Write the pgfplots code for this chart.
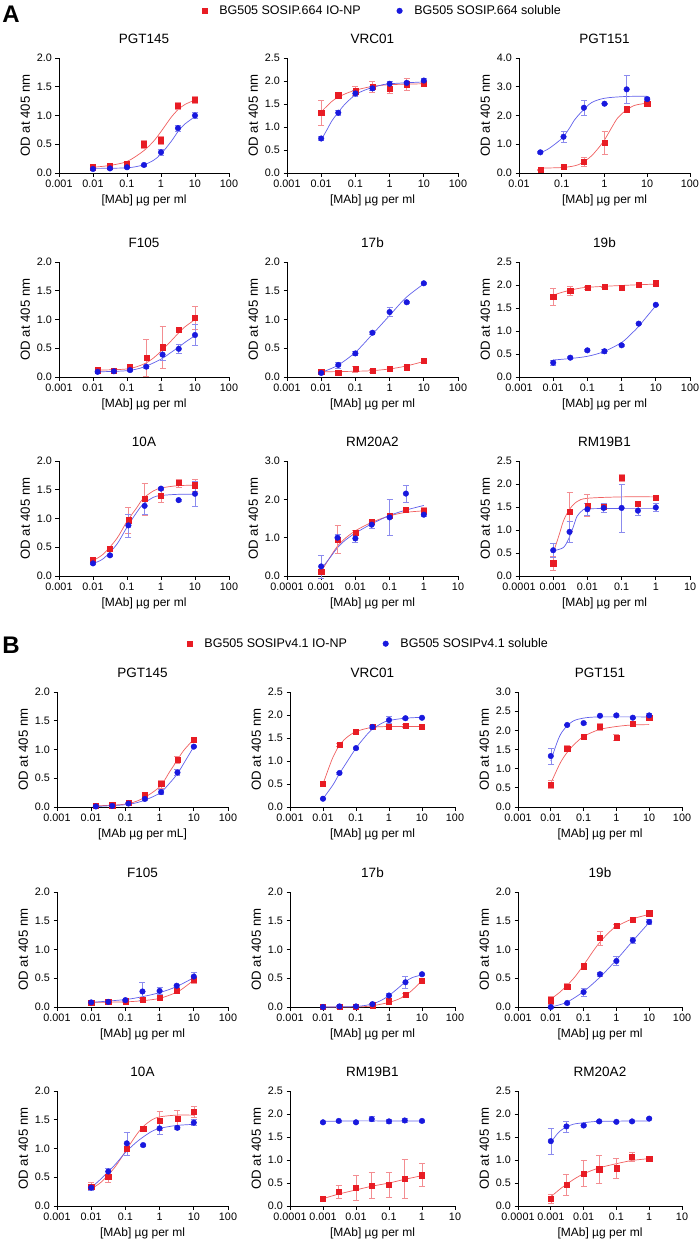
\documentclass[border=0pt]{standalone}
\usepackage{pgfplots}
\pgfplotsset{compat=1.18}
\usepackage{fontspec}
\setmainfont{Liberation Sans}
\definecolor{mred}{RGB}{232,28,36}
\definecolor{mblue}{RGB}{24,24,222}
\definecolor{cred}{RGB}{240,95,95}
\definecolor{cblue}{RGB}{95,95,235}
\pgfkeys{/pgf/number format/assume math mode=true}
\pgfplotsset{
 myax/.style={scale only axis, width=170pt, height=115pt, clip=false,
   axis x line*=bottom, axis y line*=left,
   axis line style={line width=0.8pt, black},
   tick style={black, line width=0.8pt}, tick align=outside, major tick length=3.5pt,
   xminorticks=false, ymin=0,
   ticklabel style={font=\fontsize{10.8}{12}\selectfont},
   yticklabel style={/pgf/number format/fixed, /pgf/number format/fixed zerofill, /pgf/number format/precision=1},
   xlabel={[MAb] µg per ml}, ylabel={OD at 405 nm},
   xlabel style={font=\fontsize{12}{14}\selectfont},
   ylabel style={font=\fontsize{13.2}{15}\selectfont},
   title style={yshift=5pt, font=\fontsize{13.5}{16}\selectfont},
   anchor=south west,
 },
 lg/.style={legend style={draw=none, fill=none, legend columns=2, anchor=center,
   font=\fontsize{12.5}{14}\selectfont,
   /tikz/every odd column/.append style={column sep=10pt},
   /tikz/every even column/.append style={column sep=34pt}}},
 x5/.style={xmin=0.001,xmax=100, xtick={0.001,0.01,0.1,1,10,100}, xticklabels={0.001,0.01,0.1,1,10,100}},
 x4/.style={xmin=0.01,xmax=100, xtick={0.01,0.1,1,10,100}, xticklabels={0.01,0.1,1,10,100}},
 xr/.style={xmin=0.0001,xmax=10, xtick={0.0001,0.001,0.01,0.1,1,10}, xticklabels={0.0001,0.001,0.01,0.1,1,10}},
 y2/.style={ymax=2, ytick={0,0.5,1,1.5,2}},
 y25/.style={ymax=2.5, ytick={0,0.5,1,1.5,2,2.5}},
 y3/.style={ymax=3, ytick={0,1,2,3}},
 y3h/.style={ymax=3, ytick={0,0.5,1,1.5,2,2.5,3}},
 y4/.style={ymax=4, ytick={0,1,2,3,4}},
 rc/.style={cred, line width=0.7pt, smooth, no marks},
 bc/.style={cblue, line width=0.7pt, smooth, no marks},
 rp/.style={only marks, mark=square*, mark size=2.6pt, color=mred,
   error bars/y dir=both, error bars/y explicit,
   error bars/error bar style={line width=0.6pt, color=mred!50},
   error bars/error mark options={rotate=90, mark size=3pt, line width=0.6pt, color=mred!50}},
 bp/.style={only marks, mark=*, mark size=2.8pt, color=mblue,
   error bars/y dir=both, error bars/y explicit,
   error bars/error bar style={line width=0.6pt, color=mblue!50},
   error bars/error mark options={rotate=90, mark size=3pt, line width=0.6pt, color=mblue!50}},
}
\begin{document}
\begin{tikzpicture}
\useasboundingbox (0pt,0pt) rectangle (700pt,-1242pt);
\node[font=\bfseries\fontsize{24}{26}\selectfont] at (11pt,-14pt) {A};
\node[font=\bfseries\fontsize{24}{26}\selectfont] at (11pt,-645pt) {B};

% ================= PANEL A =================
% A1 PGT145
\begin{semilogxaxis}[myax, x5, y2, at={(59pt,-173pt)}, title={PGT145}]
\addplot[rc] coordinates {(0.01,0.10) (0.03,0.13) (0.1,0.20) (0.3,0.38) (0.6,0.55) (1,0.72) (2,0.97) (3.16,1.10) (5,1.19) (10,1.27)};
\addplot[bc] coordinates {(0.01,0.08) (0.1,0.09) (0.3,0.14) (0.6,0.22) (1,0.33) (2,0.55) (3.16,0.72) (5,0.85) (10,0.98)};
\addplot[rp] coordinates {(0.01,0.10) +- (0,0.03) (0.0316,0.12) +- (0,0.03) (0.1,0.16) +- (0,0.03) (0.316,0.50) +- (0,0.07) (1,0.57) +- (0,0.07) (3.16,1.17) +- (0,0.06) (10,1.28) +- (0,0.06)};
\addplot[bp] coordinates {(0.01,0.07) +- (0,0.01) (0.0316,0.08) +- (0,0.01) (0.1,0.10) +- (0,0.01) (0.316,0.14) +- (0,0.02) (1,0.36) +- (0,0.05) (3.16,0.78) +- (0,0.05) (10,1.00) +- (0,0.05)};
\end{semilogxaxis}
% A2 VRC01
\begin{semilogxaxis}[myax, x5, y25, at={(287pt,-173pt)}, width=171pt, title={VRC01},
  lg, legend style={at={(0.558,1.41)}}]
\addlegendimage{only marks, mark=square*, mark size=2.6pt, mred}
\addlegendentry{BG505 SOSIP.664 IO-NP}
\addlegendimage{only marks, mark=*, mark size=2.8pt, mblue}
\addlegendentry{BG505 SOSIP.664 soluble}
\addplot[rc] coordinates {(0.01,1.33) (0.02,1.55) (0.03,1.64) (0.05,1.72) (0.1,1.80) (0.3,1.88) (1,1.92) (10,1.94)};
\addplot[bc] coordinates {(0.01,0.72) (0.015,0.95) (0.02,1.12) (0.03,1.30) (0.05,1.50) (0.1,1.70) (0.2,1.81) (0.5,1.90) (1,1.94) (10,1.98)};
\addplot[rp] coordinates {(0.01,1.31) +- (0,0.28) (0.0316,1.69) +- (0,0.03) (0.1,1.78) +- (0,0.10) (0.316,1.88) +- (0,0.12) (1,1.84) +- (0,0.10) (3.16,1.93) +- (0,0.13) (10,1.94) +- (0,0.04)};
\addplot[bp] coordinates {(0.01,0.75) +- (0,0.04) (0.0316,1.31) +- (0,0.06) (0.1,1.73) +- (0,0.06) (0.316,1.84) +- (0,0.05) (1,1.94) +- (0,0.05) (3.16,1.96) +- (0,0.04) (10,2.01) +- (0,0.04)};
\end{semilogxaxis}
% A3 PGT151
\begin{semilogxaxis}[myax, x4, y4, at={(519pt,-173pt)}, width=171pt, title={PGT151}]
\addplot[bc] coordinates {(0.0316,0.70) (0.05,0.85) (0.1,1.20) (0.15,1.55) (0.2,1.85) (0.3,2.15) (0.5,2.45) (1,2.60) (3,2.66) (10,2.67)};
\addplot[rc] coordinates {(0.0316,0.17) (0.1,0.19) (0.2,0.25) (0.3,0.35) (0.5,0.60) (0.8,0.95) (1,1.15) (1.5,1.60) (2,1.90) (3,2.15) (5,2.35) (10,2.43)};
\addplot[rp] coordinates {(0.0316,0.12) +- (0,0.02) (0.11,0.22) +- (0,0.05) (0.33,0.40) +- (0,0.15) (1,1.05) +- (0,0.40) (3.3,2.22) +- (0,0.05) (10,2.41) +- (0,0.10)};
\addplot[bp] coordinates {(0.0316,0.72) +- (0,0.03) (0.11,1.26) +- (0,0.20) (0.33,2.27) +- (0,0.25) (1,2.41) +- (0,0.02) (3.3,2.91) +- (0,0.50) (10,2.57) +- (0,0.05)};
\end{semilogxaxis}
% A4 F105
\begin{semilogxaxis}[myax, x5, y2, at={(59pt,-377pt)}, title={F105}]
\addplot[rc] coordinates {(0.0137,0.12) (0.1,0.14) (0.3,0.22) (0.6,0.33) (1,0.45) (2,0.63) (3.33,0.77) (5,0.87) (10,1.00)};
\addplot[bc] coordinates {(0.0137,0.09) (0.1,0.11) (0.3,0.17) (1,0.31) (2,0.43) (3.33,0.52) (5,0.60) (10,0.72)};
\addplot[rp] coordinates {(0.0137,0.12) +- (0,0.03) (0.0412,0.11) +- (0,0.02) (0.123,0.17) +- (0,0.05) (0.37,0.34) +- (0,0.32) (1.11,0.52) +- (0,0.37) (3.33,0.82) +- (0,0.02) (10,1.03) +- (0,0.20)};
\addplot[bp] coordinates {(0.0137,0.09) +- (0,0.02) (0.0412,0.10) +- (0,0.02) (0.123,0.12) +- (0,0.02) (0.37,0.18) +- (0,0.03) (1.11,0.39) +- (0,0.10) (3.33,0.49) +- (0,0.08) (10,0.73) +- (0,0.18)};
\end{semilogxaxis}
% A5 17b
\begin{semilogxaxis}[myax, x5, y2, at={(287pt,-377pt)}, width=171pt, title={17b}]
\addplot[bc] coordinates {(0.01,0.08) (0.03,0.20) (0.1,0.43) (0.3,0.73) (1,1.07) (3,1.38) (10,1.62)};
\addplot[rc] coordinates {(0.01,0.09) (0.1,0.10) (0.3,0.11) (1,0.14) (3,0.19) (10,0.27)};
\addplot[rp] coordinates {(0.01,0.09) +- (0,0.02) (0.0316,0.08) +- (0,0.02) (0.1,0.14) +- (0,0.05) (0.316,0.11) +- (0,0.02) (1,0.15) +- (0,0.02) (3.16,0.17) +- (0,0.03) (10,0.28) +- (0,0.03)};
\addplot[bp] coordinates {(0.01,0.07) +- (0,0.03) (0.0316,0.21) +- (0,0.05) (0.1,0.41) +- (0,0.04) (0.316,0.77) +- (0,0.02) (1,1.13) +- (0,0.08) (3.16,1.30) +- (0,0.02) (10,1.63) +- (0,0.02)};
\end{semilogxaxis}
% A6 19b
\begin{semilogxaxis}[myax, x5, y25, at={(519pt,-377pt)}, width=171pt, title={19b}]
\addplot[rc] coordinates {(0.01,1.78) (0.02,1.85) (0.05,1.92) (0.1,1.95) (1,1.99) (10,2.02)};
\addplot[bc] coordinates {(0.01,0.37) (0.03,0.40) (0.1,0.45) (0.3,0.55) (1,0.75) (2,0.95) (3.16,1.10) (5,1.28) (10,1.55)};
\addplot[rp] coordinates {(0.01,1.74) +- (0,0.19) (0.0316,1.88) +- (0,0.10) (0.1,1.94) +- (0,0.03) (0.316,1.96) +- (0,0.02) (1,1.94) +- (0,0.04) (3.16,2.00) +- (0,0.03) (10,2.04) +- (0,0.03)};
\addplot[bp] coordinates {(0.01,0.31) +- (0,0.05) (0.0316,0.42) +- (0,0.02) (0.1,0.58) +- (0,0.02) (0.316,0.56) +- (0,0.05) (1,0.69) +- (0,0.02) (3.16,1.16) +- (0,0.02) (10,1.57) +- (0,0.02)};
\end{semilogxaxis}
% A7 10A
\begin{semilogxaxis}[myax, x5, y2, at={(59pt,-576pt)}, title={10A}]
\addplot[rc] coordinates {(0.01,0.27) (0.02,0.38) (0.05,0.65) (0.1,0.95) (0.2,1.20) (0.3,1.35) (0.6,1.48) (1,1.53) (3,1.57) (10,1.58)};
\addplot[bc] coordinates {(0.01,0.22) (0.02,0.30) (0.05,0.55) (0.1,0.85) (0.2,1.12) (0.3,1.25) (0.6,1.37) (1,1.40) (3,1.42) (10,1.42)};
\addplot[rp] coordinates {(0.01,0.28) +- (0,0.03) (0.0316,0.48) +- (0,0.03) (0.11,0.97) +- (0,0.22) (0.33,1.34) +- (0,0.28) (1,1.39) +- (0,0.10) (3.3,1.62) +- (0,0.07) (10,1.58) +- (0,0.10)};
\addplot[bp] coordinates {(0.01,0.22) +- (0,0.02) (0.0316,0.36) +- (0,0.02) (0.11,0.88) +- (0,0.20) (0.33,1.22) +- (0,0.15) (1,1.52) +- (0,0.02) (3.3,1.32) +- (0,0.02) (10,1.43) +- (0,0.22)};
\end{semilogxaxis}
% A8 RM20A2
\begin{semilogxaxis}[myax, xr, y3, at={(287pt,-576pt)}, width=171pt, title={RM20A2}]
\addplot[rc] coordinates {(0.001,0.12) (0.002,0.55) (0.003,0.78) (0.005,0.98) (0.01,1.18) (0.03,1.40) (0.1,1.57) (0.3,1.66) (1,1.70)};
\addplot[bc] coordinates {(0.001,0.18) (0.002,0.53) (0.003,0.74) (0.005,0.93) (0.01,1.12) (0.03,1.36) (0.1,1.58) (0.3,1.72) (1,1.84)};
\addplot[rp] coordinates {(0.001,0.12) +- (0,0.05) (0.003,0.95) +- (0,0.37) (0.01,1.13) +- (0,0.05) (0.03,1.42) +- (0,0.03) (0.1,1.57) +- (0,0.05) (0.3,1.73) +- (0,0.05) (1,1.70) +- (0,0.10)};
\addplot[bp] coordinates {(0.001,0.25) +- (0,0.30) (0.003,1.00) +- (0,0.10) (0.01,0.98) +- (0,0.10) (0.03,1.34) +- (0,0.10) (0.1,1.53) +- (0,0.48) (0.3,2.15) +- (0,0.22) (1,1.60) +- (0,0.05)};
\end{semilogxaxis}
% A9 RM19B1
\begin{semilogxaxis}[myax, xr, y25, at={(519pt,-576pt)}, width=171pt, title={RM19B1}]
\addplot[rc] coordinates {(0.001,0.50) (0.0015,0.90) (0.002,1.20) (0.003,1.45) (0.005,1.62) (0.01,1.69) (0.1,1.72) (1,1.72)};
\addplot[bc] coordinates {(0.001,0.55) (0.002,0.62) (0.003,0.85) (0.004,1.10) (0.005,1.30) (0.007,1.42) (0.01,1.46) (0.1,1.47) (1,1.47)};
\addplot[rp] coordinates {(0.001,0.28) +- (0,0.15) (0.003,1.40) +- (0,0.42) (0.01,1.53) +- (0,0.24) (0.03,1.50) +- (0,0.05) (0.1,2.13) +- (0,0.08) (0.3,1.58) +- (0,0.03) (1,1.71) +- (0,0.03)};
\addplot[bp] coordinates {(0.001,0.56) +- (0,0.15) (0.003,0.96) +- (0,0.23) (0.01,1.45) +- (0,0.12) (0.03,1.48) +- (0,0.10) (0.1,1.48) +- (0,0.52) (0.3,1.42) +- (0,0.10) (1,1.49) +- (0,0.08)};
\end{semilogxaxis}

% ================= PANEL B =================
% B1 PGT145
\begin{semilogxaxis}[myax, x5, y2, at={(57pt,-807pt)}, width=171pt, title={PGT145}, xlabel={[MAb µg per mL]}]
\addplot[rc] coordinates {(0.0137,0.02) (0.1,0.05) (0.3,0.14) (1,0.35) (2,0.62) (3.33,0.82) (5,0.98) (10,1.18)};
\addplot[bc] coordinates {(0.0137,0.01) (0.1,0.04) (0.3,0.10) (1,0.24) (2,0.42) (3.33,0.58) (5,0.75) (10,1.05)};
\addplot[rp] coordinates {(0.0137,0.02) +- (0,0.02) (0.0412,0.03) +- (0,0.02) (0.123,0.07) +- (0,0.02) (0.37,0.21) +- (0,0.05) (1.11,0.40) +- (0,0.07) (3.33,0.82) +- (0,0.06) (10,1.17) +- (0,0.03)};
\addplot[bp] coordinates {(0.0137,0.01) +- (0,0.01) (0.0412,0.02) +- (0,0.01) (0.123,0.06) +- (0,0.01) (0.37,0.14) +- (0,0.02) (1.11,0.26) +- (0,0.04) (3.33,0.60) +- (0,0.05) (10,1.05) +- (0,0.02)};
\end{semilogxaxis}
% B2 VRC01
\begin{semilogxaxis}[myax, x5, y25, at={(290pt,-807pt)}, width=165pt, title={VRC01},
  lg, legend style={at={(0.476,1.42)}}]
\addlegendimage{only marks, mark=square*, mark size=2.6pt, mred}
\addlegendentry{BG505 SOSIPv4.1 IO-NP}
\addlegendimage{only marks, mark=*, mark size=2.8pt, mblue}
\addlegendentry{BG505 SOSIPv4.1 soluble}
\addplot[rc] coordinates {(0.01,0.50) (0.015,0.85) (0.02,1.08) (0.03,1.32) (0.05,1.50) (0.1,1.64) (0.3,1.73) (1,1.75) (10,1.75)};
\addplot[bc] coordinates {(0.01,0.18) (0.02,0.48) (0.03,0.70) (0.05,0.95) (0.1,1.28) (0.2,1.55) (0.3,1.68) (0.6,1.82) (1,1.88) (3,1.93) (10,1.95)};
\addplot[rp] coordinates {(0.01,0.50) +- (0,0.03) (0.0316,1.35) +- (0,0.03) (0.1,1.63) +- (0,0.03) (0.316,1.74) +- (0,0.03) (1,1.75) +- (0,0.03) (3.16,1.77) +- (0,0.03) (10,1.75) +- (0,0.03)};
\addplot[bp] coordinates {(0.01,0.18) +- (0,0.02) (0.0316,0.74) +- (0,0.02) (0.1,1.28) +- (0,0.02) (0.316,1.74) +- (0,0.03) (1,1.89) +- (0,0.08) (3.16,1.93) +- (0,0.02) (10,1.94) +- (0,0.02)};
\end{semilogxaxis}
% B3 PGT151
\begin{semilogxaxis}[myax, x5, y3h, at={(518pt,-807pt)}, width=164pt, title={PGT151}]
\addplot[bc] coordinates {(0.01,1.20) (0.015,1.65) (0.02,1.90) (0.03,2.10) (0.05,2.25) (0.1,2.32) (0.3,2.35) (10,2.35)};
\addplot[rc] coordinates {(0.01,0.62) (0.015,0.95) (0.02,1.17) (0.03,1.40) (0.05,1.62) (0.1,1.84) (0.3,2.02) (1,2.10) (3,2.14) (10,2.15)};
\addplot[rp] coordinates {(0.01,0.59) +- (0,0.10) (0.0316,1.53) +- (0,0.07) (0.1,1.84) +- (0,0.03) (0.316,2.09) +- (0,0.10) (1,1.81) +- (0,0.08) (3.16,2.17) +- (0,0.03) (10,2.34) +- (0,0.05)};
\addplot[bp] coordinates {(0.01,1.33) +- (0,0.21) (0.0316,2.14) +- (0,0.02) (0.1,2.19) +- (0,0.02) (0.316,2.38) +- (0,0.02) (1,2.39) +- (0,0.02) (3.16,2.33) +- (0,0.02) (10,2.39) +- (0,0.05)};
\end{semilogxaxis}
% B4 F105
\begin{semilogxaxis}[myax, x5, y2, at={(57pt,-1007pt)}, width=171pt, title={F105}]
\addplot[rc] coordinates {(0.01,0.08) (0.1,0.09) (0.316,0.11) (1,0.15) (3,0.25) (5,0.33) (10,0.47)};
\addplot[bc] coordinates {(0.01,0.08) (0.1,0.13) (0.316,0.18) (1,0.25) (3,0.35) (10,0.51)};
\addplot[rp] coordinates {(0.01,0.08) +- (0,0.02) (0.0316,0.09) +- (0,0.02) (0.1,0.10) +- (0,0.02) (0.316,0.13) +- (0,0.02) (1,0.16) +- (0,0.02) (3.16,0.29) +- (0,0.03) (10,0.47) +- (0,0.05)};
\addplot[bp] coordinates {(0.01,0.08) +- (0,0.02) (0.0316,0.09) +- (0,0.02) (0.1,0.12) +- (0,0.02) (0.316,0.27) +- (0,0.16) (1,0.28) +- (0,0.06) (3.16,0.37) +- (0,0.03) (10,0.53) +- (0,0.07)};
\end{semilogxaxis}
% B5 17b
\begin{semilogxaxis}[myax, x5, y2, at={(290pt,-1007pt)}, width=165pt, title={17b}]
\addplot[rc] coordinates {(0.01,0.0) (0.1,0.0) (0.3,0.02) (1,0.08) (2,0.14) (3.16,0.20) (5,0.29) (10,0.46)};
\addplot[bc] coordinates {(0.01,0.0) (0.1,0.01) (0.3,0.05) (0.6,0.12) (1,0.20) (2,0.34) (3.16,0.44) (5,0.51) (10,0.56)};
\addplot[rp] coordinates {(0.01,0.0) +- (0,0.02) (0.0316,0.0) +- (0,0.02) (0.1,0.01) +- (0,0.02) (0.316,0.03) +- (0,0.02) (1,0.10) +- (0,0.02) (3.16,0.21) +- (0,0.02) (10,0.46) +- (0,0.02)};
\addplot[bp] coordinates {(0.01,0.0) +- (0,0.02) (0.0316,0.01) +- (0,0.02) (0.1,0.01) +- (0,0.02) (0.316,0.05) +- (0,0.02) (1,0.20) +- (0,0.04) (3.16,0.43) +- (0,0.11) (10,0.57) +- (0,0.02)};
\end{semilogxaxis}
% B6 19b
\begin{semilogxaxis}[myax, x5, y2, at={(518pt,-1007pt)}, width=164pt, title={19b}]
\addplot[rc] coordinates {(0.01,0.14) (0.02,0.27) (0.05,0.50) (0.1,0.73) (0.2,0.98) (0.316,1.13) (0.6,1.30) (1,1.40) (3,1.53) (10,1.61)};
\addplot[bc] coordinates {(0.01,0.0) (0.03,0.08) (0.1,0.27) (0.316,0.52) (1,0.82) (3.16,1.15) (10,1.47)};
\addplot[rp] coordinates {(0.01,0.12) +- (0,0.07) (0.0316,0.36) +- (0,0.05) (0.1,0.71) +- (0,0.04) (0.316,1.20) +- (0,0.12) (1,1.41) +- (0,0.02) (3.16,1.52) +- (0,0.02) (10,1.63) +- (0,0.05)};
\addplot[bp] coordinates {(0.01,0.0) +- (0,0.02) (0.0316,0.07) +- (0,0.02) (0.1,0.26) +- (0,0.07) (0.316,0.57) +- (0,0.04) (1,0.80) +- (0,0.08) (3.16,1.16) +- (0,0.05) (10,1.48) +- (0,0.05)};
\end{semilogxaxis}
% B7 10A
\begin{semilogxaxis}[myax, x5, y2, at={(57pt,-1206pt)}, width=171pt, title={10A}]
\addplot[rc] coordinates {(0.01,0.30) (0.02,0.42) (0.05,0.68) (0.1,0.95) (0.2,1.22) (0.33,1.38) (0.6,1.50) (1,1.55) (3,1.58) (10,1.58)};
\addplot[bc] coordinates {(0.01,0.32) (0.02,0.48) (0.05,0.72) (0.1,0.93) (0.2,1.10) (0.33,1.20) (0.6,1.30) (1,1.35) (3,1.40) (10,1.42)};
\addplot[rp] coordinates {(0.01,0.34) +- (0,0.07) (0.0316,0.51) +- (0,0.10) (0.11,0.99) +- (0,0.10) (0.33,1.35) +- (0,0.02) (1,1.48) +- (0,0.17) (3.3,1.52) +- (0,0.14) (10,1.64) +- (0,0.10)};
\addplot[bp] coordinates {(0.01,0.32) +- (0,0.05) (0.0316,0.60) +- (0,0.05) (0.11,1.09) +- (0,0.20) (0.33,1.06) +- (0,0.02) (1,1.35) +- (0,0.10) (3.3,1.36) +- (0,0.02) (10,1.45) +- (0,0.05)};
\end{semilogxaxis}
% B8 RM19B1
\begin{semilogxaxis}[myax, xr, y25, at={(290pt,-1206pt)}, width=165pt, title={RM19B1}]
\addplot[bc] coordinates {(0.001,1.84) (0.01,1.85) (0.1,1.85) (1,1.85)};
\addplot[rc] coordinates {(0.001,0.16) (0.003,0.26) (0.01,0.35) (0.03,0.43) (0.1,0.50) (0.3,0.58) (1,0.66)};
\addplot[rp] coordinates {(0.001,0.16) +- (0,0.03) (0.003,0.31) +- (0,0.15) (0.01,0.40) +- (0,0.27) (0.03,0.45) +- (0,0.28) (0.1,0.46) +- (0,0.28) (0.3,0.59) +- (0,0.43) (1,0.67) +- (0,0.25)};
\addplot[bp] coordinates {(0.001,1.82) +- (0,0.02) (0.003,1.85) +- (0,0.02) (0.01,1.82) +- (0,0.02) (0.03,1.89) +- (0,0.05) (0.1,1.84) +- (0,0.05) (0.3,1.86) +- (0,0.04) (1,1.85) +- (0,0.02)};
\end{semilogxaxis}
% B9 RM20A2
\begin{semilogxaxis}[myax, xr, y25, at={(518pt,-1206pt)}, width=164pt, title={RM20A2}]
\addplot[bc] coordinates {(0.001,1.38) (0.0015,1.55) (0.002,1.64) (0.003,1.72) (0.005,1.78) (0.01,1.81) (0.03,1.84) (1,1.85)};
\addplot[rc] coordinates {(0.001,0.20) (0.002,0.38) (0.003,0.47) (0.005,0.58) (0.01,0.70) (0.03,0.83) (0.1,0.92) (0.3,0.99) (1,1.03)};
\addplot[rp] coordinates {(0.001,0.16) +- (0,0.10) (0.003,0.47) +- (0,0.23) (0.01,0.71) +- (0,0.28) (0.03,0.80) +- (0,0.31) (0.1,0.82) +- (0,0.22) (0.3,1.07) +- (0,0.10) (1,1.02) +- (0,0.05)};
\addplot[bp] coordinates {(0.001,1.41) +- (0,0.29) (0.003,1.73) +- (0,0.12) (0.01,1.75) +- (0,0.02) (0.03,1.84) +- (0,0.02) (0.1,1.83) +- (0,0.02) (0.3,1.84) +- (0,0.02) (1,1.90) +- (0,0.02)};
\end{semilogxaxis}
\end{tikzpicture}
\end{document}
